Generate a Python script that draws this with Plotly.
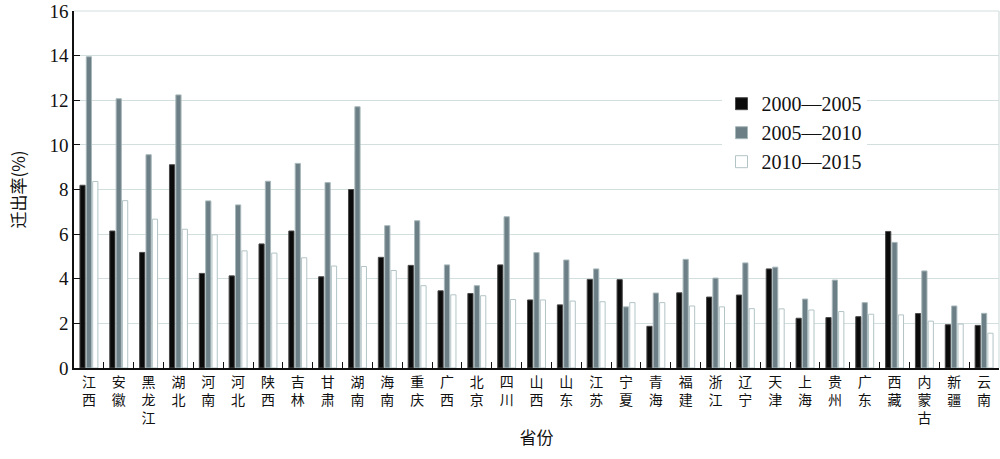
import plotly.graph_objects as go

provinces = ["江西", "安徽", "黑龙江", "湖北", "河南", "河北", "陕西", "吉林", "甘肃", "湖南",
             "海南", "重庆", "广西", "北京", "四川", "山西", "山东", "江苏", "宁夏", "青海",
             "福建", "浙江", "辽宁", "天津", "上海", "贵州", "广东", "西藏", "内蒙古", "新疆", "云南"]

rate_2000_2005 = [8.19, 6.14, 5.18, 9.11, 4.24, 4.13, 5.56, 6.14, 4.09, 8.00,
                  4.96, 4.60, 3.46, 3.34, 4.62, 3.05, 2.83, 3.97, 3.96, 1.87,
                  3.37, 3.18, 3.27, 4.44, 2.23, 2.26, 2.30, 6.12, 2.44, 1.94, 1.91]
rate_2005_2010 = [13.95, 12.07, 9.56, 12.24, 7.49, 7.31, 8.37, 9.17, 8.31, 11.71,
                  6.38, 6.60, 4.62, 3.69, 6.78, 5.17, 4.84, 4.44, 2.74, 3.36,
                  4.87, 4.03, 4.71, 4.52, 3.09, 3.94, 2.93, 5.63, 4.35, 2.78, 2.45]
rate_2010_2015 = [8.36, 7.50, 6.67, 6.22, 5.97, 5.25, 5.15, 4.94, 4.57, 4.55,
                  4.37, 3.69, 3.28, 3.24, 3.07, 3.05, 3.00, 2.97, 2.93, 2.93,
                  2.78, 2.74, 2.66, 2.65, 2.60, 2.53, 2.41, 2.38, 2.10, 1.97, 1.56]

series_names = ["2000—2005", "2005—2010", "2010—2015"]
y_ticks = [0, 2, 4, 6, 8, 10, 12, 14, 16]

tick_text = ["<br>".join(list(p)) for p in provinces]

fig = go.Figure()
fig.add_trace(go.Bar(x=provinces, y=rate_2000_2005, name=series_names[0],
                     marker=dict(color="#0b0b0b", line=dict(color="#4a4a4a", width=1))))
fig.add_trace(go.Bar(x=provinces, y=rate_2005_2010, name=series_names[1],
                     marker=dict(color="#6d7f86", line=dict(color="#a8b8bb", width=1))))
fig.add_trace(go.Bar(x=provinces, y=rate_2010_2015, name=series_names[2],
                     marker=dict(color="#ffffff", line=dict(color="#b3c4c6", width=1))))

fig.update_layout(
    width=1000, height=459,
    margin=dict(l=74, r=1, t=11, b=91, autoexpand=False),
    paper_bgcolor="white", plot_bgcolor="white",
    barmode="group", bargap=0.36, bargroupgap=0.18,
    font=dict(family="Liberation Serif", color="#111"),
    legend=dict(x=0.70, y=0.795, xanchor="left", yanchor="top",
                bgcolor="white", font=dict(family="Liberation Serif", size=20, color="#111"),
                tracegroupgap=0, itemwidth=30),
    showlegend=True,
)

fig.update_xaxes(
    automargin=False,
    tickmode="array", tickvals=provinces, ticktext=tick_text,
    tickfont=dict(family="Noto Sans CJK SC", size=14, color="#111"),
    tickangle=0, ticklabeloverflow="allow",
    showline=True, linecolor="#111", linewidth=1.5,
    ticks="inside", tickson="boundaries", ticklen=6, tickcolor="#111",
    showgrid=False,
    title=dict(text="省份", font=dict(family="Noto Sans CJK SC", size=17, color="#111"), standoff=6),
)

fig.update_yaxes(
    automargin=False,
    range=[0, 16], tickvals=y_ticks, ticklabeloverflow="allow",
    tickfont=dict(family="Liberation Serif", size=19, color="#111"),
    showline=True, linecolor="#111", linewidth=1.5,
    ticks="inside", ticklen=6, tickcolor="#111",
    showgrid=True, gridcolor="#d3dede", gridwidth=1.2,
    zeroline=False,
    title=dict(text="迁出率(%)", font=dict(family="Noto Sans CJK SC", size=17, color="#111"), standoff=20),
)

border = dict(color="#d3dede", width=1.2)
fig.add_shape(type="line", xref="paper", yref="paper", x0=1, x1=1, y0=0, y1=1, line=border)
fig.add_shape(type="line", xref="paper", yref="paper", x0=0, x1=1, y0=1, y1=1, line=border)

fig.write_html("out.html", config={"displayModeBar": False},
               post_script="document.body.style.margin='0px';document.body.style.overflow='hidden';")
